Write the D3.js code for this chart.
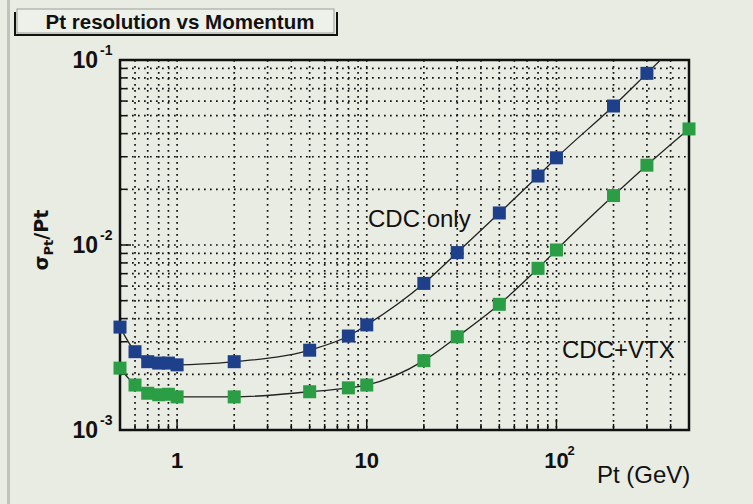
<!DOCTYPE html>
<html lang="en">
	<head>
		<meta charset="utf-8">
		<title>Pt resolution vs Momentum</title>
		<script src="https://d3js.org/d3.v7.min.js"></script>
		<style type="text/css">
			body { margin: 0; background: #e9ece3; }
			text { font-family: Arial, "Liberation Sans", sans-serif; }
		</style>
	</head>
	<body>
		<script type="text/javascript">

			//Data
			var pt = [0.5, 0.6, 0.7, 0.8, 0.9, 1, 2, 5, 8, 10, 20, 30, 50, 80, 100, 200, 300, 500];
			var cdcOnly = [0.0036, 0.00265, 0.00234, 0.0023, 0.0023, 0.00225, 0.00234, 0.0027, 0.00322, 0.0037,
			               0.0062, 0.0091, 0.0149, 0.0236, 0.0296, 0.0564, 0.0847, 0.142];
			var cdcVtx = [0.00216, 0.00175, 0.00158, 0.00155, 0.00156, 0.00151, 0.00151, 0.00161, 0.00169, 0.00175,
			              0.00237, 0.00319, 0.00478, 0.00748, 0.0094, 0.0185, 0.027, 0.0424];
			var xMajor = [1, 10, 100];
			var xMajorExp = ["", "", "2"];
			var xMajorBase = ["1", "10", "10"];
			var yMajor = [0.1, 0.01, 0.001];
			var yMajorExp = ["-1", "-2", "-3"];

			var w = 753;
			var h = 504;
			var plotL = 120, plotR = 689, plotT = 60, plotB = 430;

			var svg = d3.select("body")
						.append("svg")
						.attr("width", w)
						.attr("height", h);

			svg.append("rect").attr("width", w).attr("height", h).attr("fill", "#e9ece3");
			svg.append("rect").attr("x", 7).attr("y", 0).attr("width", 3).attr("height", h).attr("fill", "#bfc3bb");

			var x = d3.scaleLog().domain([0.5, 500]).range([plotL, plotR]);
			var y = d3.scaleLog().domain([0.001, 0.1]).range([plotB, plotT]);

			//minor tick values
			var xMinor = [];
			[0.1, 1, 10, 100].forEach(function(d) {
				for (var k = 1; k < 10; k++) {
					var v = +(d * k).toPrecision(3);
					if (v > 0.5 && v < 500) xMinor.push(v);
				}
			});
			var yMinor = [];
			[0.001, 0.01].forEach(function(d) {
				for (var k = 2; k < 10; k++) yMinor.push(+(d * k).toPrecision(3));
			});
			yMinor.push(0.01);

			//dotted grid
			var grid = svg.append("g")
				.attr("stroke", "#111")
				.attr("stroke-width", 1.7)
				.attr("stroke-dasharray", "1.7,4.3")
				.attr("fill", "none");
			grid.selectAll(".vx").data(xMinor).enter().append("line")
				.attr("x1", function(d) { return x(d); }).attr("x2", function(d) { return x(d); })
				.attr("y1", plotT).attr("y2", plotB);
			grid.selectAll(".hy").data(yMinor).enter().append("line")
				.attr("y1", function(d) { return y(d); }).attr("y2", function(d) { return y(d); })
				.attr("x1", plotL).attr("x2", plotR);

			//ticks inside frame
			var ticks = svg.append("g").attr("stroke", "#111").attr("stroke-width", 1.5);
			ticks.selectAll(".tx").data(xMinor).enter().append("line")
				.attr("x1", function(d) { return x(d); }).attr("x2", function(d) { return x(d); })
				.attr("y1", plotB).attr("y2", function(d) { return xMajor.indexOf(d) >= 0 ? plotB - 11 : plotB - 6; });
			ticks.selectAll(".ty").data(yMinor).enter().append("line")
				.attr("y1", function(d) { return y(d); }).attr("y2", function(d) { return y(d); })
				.attr("x1", plotL).attr("x2", function(d) { return d === 0.01 ? plotL + 11 : plotL + 6; });

			//frame
			svg.append("rect")
				.attr("x", plotL).attr("y", plotT)
				.attr("width", plotR - plotL).attr("height", plotB - plotT)
				.attr("fill", "none").attr("stroke", "#111").attr("stroke-width", 2.5);

			svg.append("clipPath").attr("id", "plot")
				.append("rect").attr("x", plotL).attr("y", plotT)
				.attr("width", plotR - plotL).attr("height", plotB - plotT);

			var line = d3.line()
				.x(function(d) { return x(d[0]); })
				.y(function(d) { return y(d[1]); })
				.curve(d3.curveMonotoneX);

			var series = [
				{ vals: cdcOnly, color: "#1e3f8a" },
				{ vals: cdcVtx, color: "#2b9e45" }
			];

			series.forEach(function(s) {
				var pts = pt.map(function(p, i) { return [p, s.vals[i]]; });
				svg.append("path")
					.attr("d", line(pts))
					.attr("clip-path", "url(#plot)")
					.attr("fill", "none")
					.attr("stroke", "#222")
					.attr("stroke-width", 1.3);
				svg.selectAll(null)
					.data(pts.filter(function(d) { return d[1] <= 0.1; }))
					.enter()
					.append("rect")
					.attr("x", function(d) { return x(d[0]) - 6.5; })
					.attr("y", function(d) { return y(d[1]) - 6.5; })
					.attr("width", 13)
					.attr("height", 13)
					.attr("fill", s.color);
			});

			//axis labels
			var tickFont = "'Liberation Sans Narrow', 'Arial Narrow', Arial, sans-serif";
			yMajor.forEach(function(d, i) {
				svg.append("text")
					.attr("x", 98).attr("y", y(d) + 8)
					.attr("text-anchor", "end")
					.style("font-family", tickFont)
					.style("font-weight", "bold")
					.style("font-size", "23px")
					.attr("fill", "#111")
					.text("10");
				svg.append("text")
					.attr("x", 100).attr("y", y(d) - 5)
					.style("font-family", tickFont)
					.style("font-weight", "bold")
					.style("font-size", "14px")
					.attr("fill", "#111")
					.text(yMajorExp[i]);
			});
			xMajor.forEach(function(d, i) {
				svg.append("text")
					.attr("x", x(d)).attr("y", 468)
					.attr("text-anchor", "middle")
					.style("font-family", tickFont)
					.style("font-weight", "bold")
					.style("font-size", "22px")
					.attr("fill", "#111")
					.text(xMajorBase[i]);
				if (xMajorExp[i]) {
					svg.append("text")
						.attr("x", x(d) + 11).attr("y", 455)
						.style("font-family", tickFont)
						.style("font-weight", "bold")
						.style("font-size", "13px")
						.attr("fill", "#111")
						.text(xMajorExp[i]);
				}
			});

			svg.append("text")
				.attr("x", 597).attr("y", 483)
				.style("font-size", "24px")
				.attr("fill", "#111")
				.text("Pt (GeV)");

			var yl = svg.append("text")
				.attr("transform", "translate(48,240) rotate(-90)")
				.attr("text-anchor", "middle")
				.style("font-family", "'DejaVu Sans', sans-serif")
				.style("font-weight", "bold")
				.style("font-size", "19px")
				.attr("fill", "#111");
			yl.append("tspan").text("σ");
			yl.append("tspan").attr("dy", 5).style("font-size", "13px").text("Pt");
			yl.append("tspan").attr("dy", -5).text("/Pt");

			//in-plot labels
			svg.append("text").attr("x", 368).attr("y", 227)
				.style("font-size", "24px").attr("fill", "#111").text("CDC only");
			svg.append("text").attr("x", 562).attr("y", 358)
				.style("font-size", "24px").attr("fill", "#111").text("CDC+VTX");

			//title box
			svg.append("rect")
				.attr("x", 17).attr("y", 9).attr("width", 317).attr("height", 24)
				.attr("fill", "#eef0ea").attr("stroke", "#9a9d96").attr("stroke-width", 1);
			svg.append("path")
				.attr("d", "M15,12 V35 H337 V12")
				.attr("fill", "none").attr("stroke", "#111").attr("stroke-width", 2);
			svg.append("text")
				.attr("x", 180).attr("y", 29)
				.attr("text-anchor", "middle")
				.style("font-weight", "bold")
				.style("font-size", "20.5px")
				.attr("fill", "#111")
				.text("Pt resolution vs Momentum");

		</script>
	</body>
</html>
